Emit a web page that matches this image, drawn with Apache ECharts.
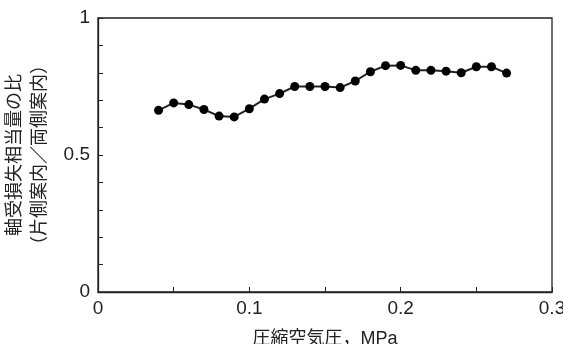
<!DOCTYPE html>
<html><head><meta charset="utf-8">
<script src="https://cdn.jsdelivr.net/npm/echarts@6/dist/echarts.min.js"></script>
<style>html,body{margin:0;padding:0;background:#fff}#c{width:563px;height:344px}</style>
</head><body><div id="c"></div>
<script>
var pressure = [0.04,0.05,0.06,0.07,0.08,0.09,0.10,0.11,0.12,0.13,0.14,0.15,0.16,0.17,0.18,0.19,0.20,0.21,0.22,0.23,0.24,0.25,0.26,0.27];
var ratio = [0.663,0.690,0.684,0.666,0.642,0.639,0.669,0.704,0.724,0.750,0.750,0.750,0.746,0.770,0.804,0.826,0.827,0.809,0.809,0.806,0.800,0.822,0.822,0.799];
var xTitle = '圧縮空気圧，MPa';
var yTitle = '軸受損失相当量の比\n（片側案内／両側案内）';
var chart = echarts.init(document.getElementById('c'));
var font = 'Liberation Sans, Arial, Noto Sans CJK JP, sans-serif';
chart.setOption({
  animation: false,
  grid: {left: 98, right: 11, top: 18, bottom: 52, outerBoundsMode: 'none', containLabel: false,
    show: true, borderColor: '#222', borderWidth: 1.3, backgroundColor: 'transparent'},
  xAxis: {
    type: 'value', min: 0, max: 0.3, interval: 0.1,
    name: xTitle, nameLocation: 'middle', nameGap: 38,
    nameTextStyle: {fontFamily: font, fontSize: 18, color: '#222'},
    axisLine: {show: true, lineStyle: {color: '#222', width: 1.3}},
    axisTick: {show: true, inside: true, length: 5, lineStyle: {color: '#222'}},
    minorTick: {show: true, splitNumber: 2, length: 5, lineStyle: {color: '#222'}},
    splitLine: {show: false},
    axisLabel: {fontFamily: font, fontSize: 19, color: '#222', margin: 7,
      formatter: function(v){ return String(+v.toFixed(2)); }}
  },
  yAxis: {
    type: 'value', min: 0, max: 1, interval: 0.5,
    name: yTitle, nameLocation: 'middle', nameGap: 44, nameRotate: 90,
    nameTextStyle: {fontFamily: font, fontSize: 18, color: '#222', lineHeight: 25},
    axisLine: {show: true, lineStyle: {color: '#222', width: 1.3}},
    axisTick: {show: true, inside: true, length: 5, lineStyle: {color: '#222'}},
    minorTick: {show: true, splitNumber: 5, length: 5, lineStyle: {color: '#222'}},
    splitLine: {show: false},
    axisLabel: {fontFamily: font, fontSize: 19, color: '#222', margin: 8,
      formatter: function(v){ return String(+v.toFixed(2)); }}
  },
  series: [{
    type: 'line',
    data: pressure.map(function(x,i){ return [x, ratio[i]]; }),
    symbol: 'circle', symbolSize: 9,
    lineStyle: {color: '#222', width: 2},
    itemStyle: {color: '#000'}
  }]
});
</script></body></html>
